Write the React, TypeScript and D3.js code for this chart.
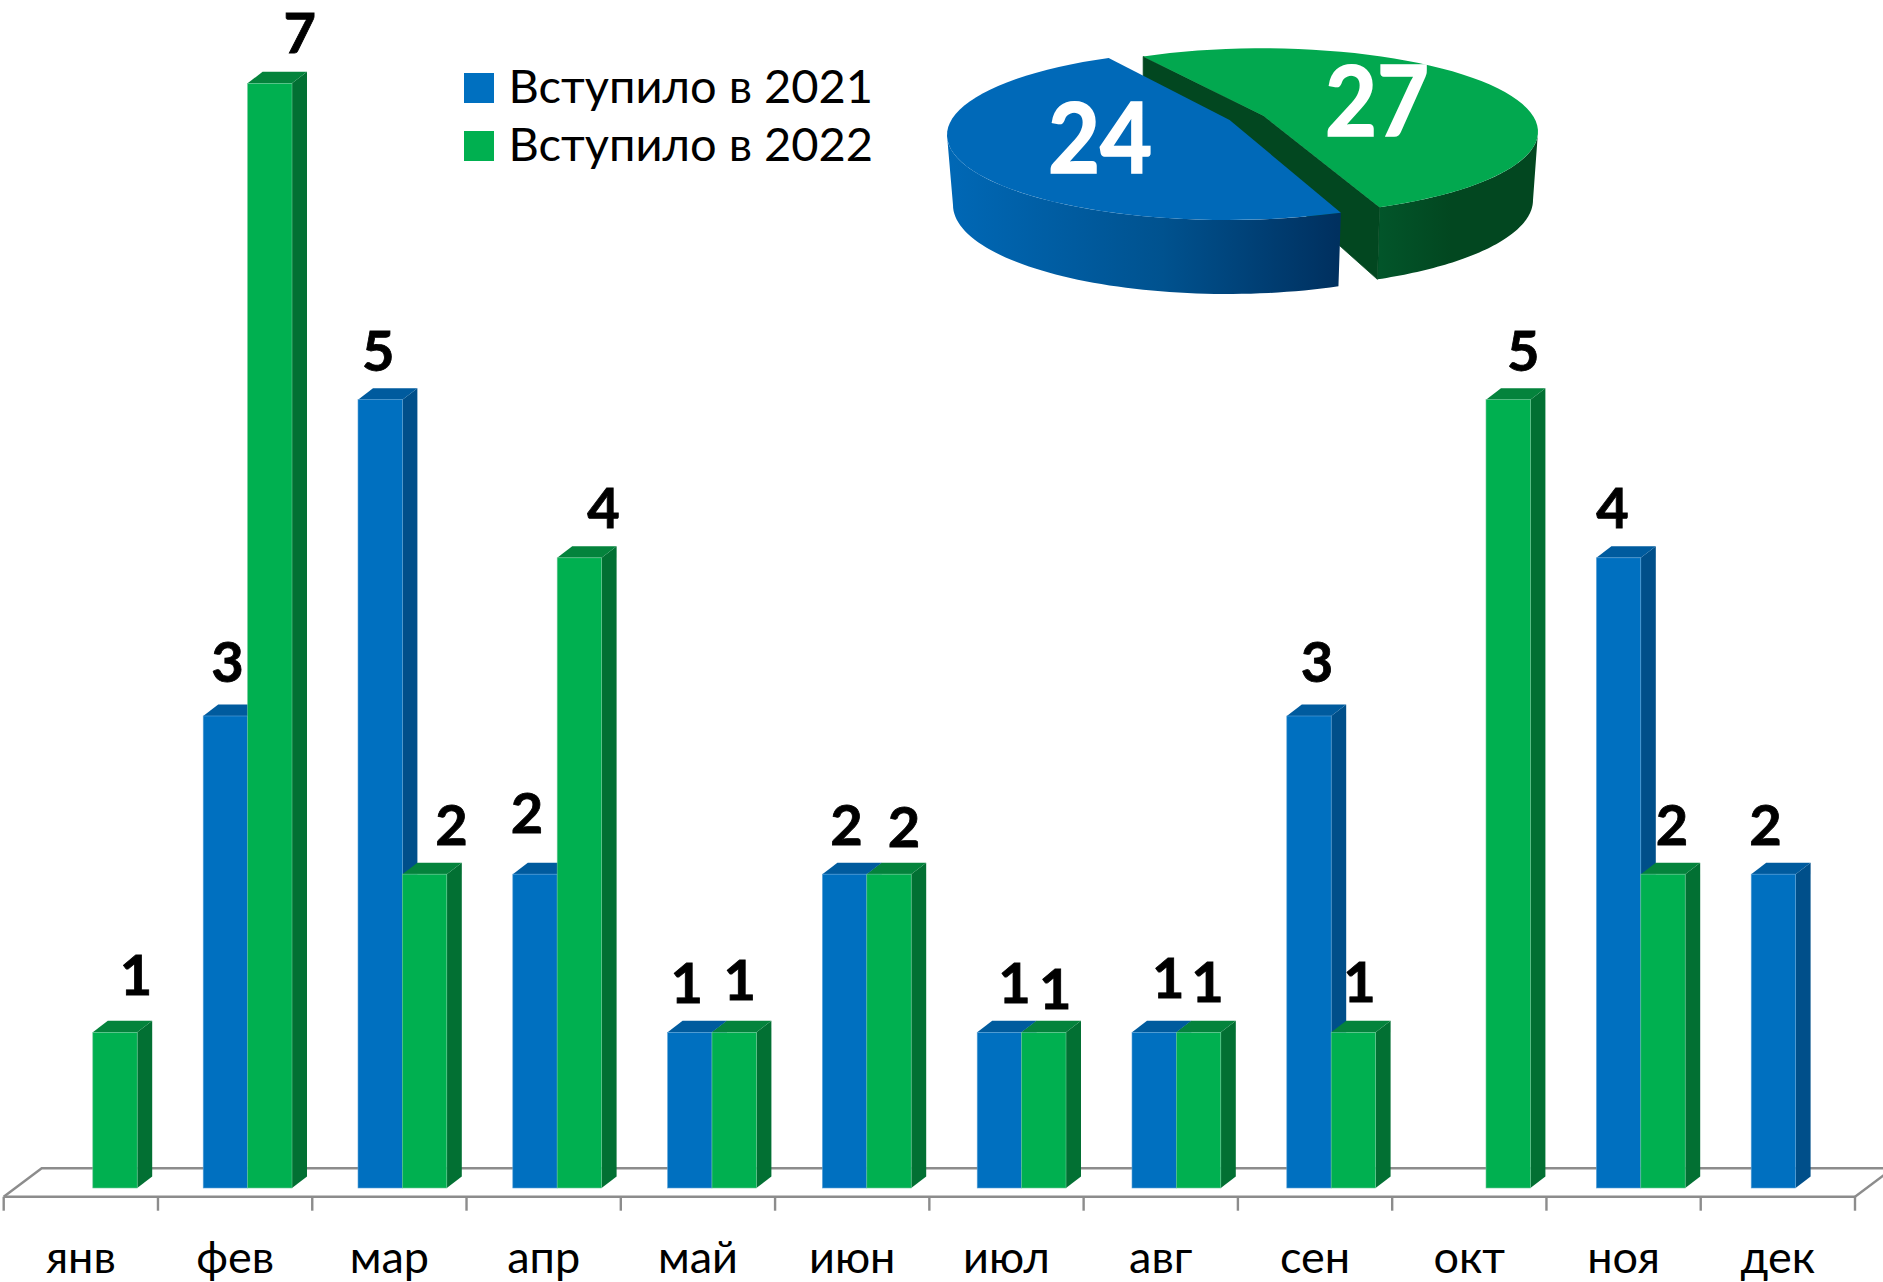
import React from "react";
import * as d3 from "d3";

const months = ["янв", "фев", "мар", "апр", "май", "июн", "июл", "авг", "сен", "окт", "ноя", "дек"];
const joined2021 = [0, 3, 5, 2, 1, 2, 1, 1, 3, 0, 4, 2];
const joined2022 = [1, 7, 2, 4, 1, 2, 1, 1, 1, 5, 2, 0];
const totals = [27, 24];
const legendLabels = ["Вступило в 2021", "Вступило в 2022"];

// label nudges (layout only), px from the bar's centre and top
const nudge2021 = [[0, 0], [2, -52.6], [-2, -48], [-8, -60], [-3, -48], [2, -48], [15, -48], [14, -53], [8, -53], [0, 0], [-6, -49], [-8, -48]];
const nudge2022 = [[21, -56], [30, -49], [27, -48], [24, -49], [5.5, -51], [15, -46], [11.5, -42], [9, -49], [6, -49], [15, -48], [9, -48], [0, 0]];

const FONT = "Lato, Carlito, 'Open Sans', sans-serif";
const W = 1883, H = 1282;
const BAR_W = 44.4, DX = 15, DY = 11.5, BASE = 1188;
const y = d3.scaleLinear().domain([0, 7]).range([1190.5, 83.3]);
const groupX = d3.scaleLinear().domain([0, 11]).range([48.4, 1751.2]);
const tickX = d3.scaleLinear().domain([0, 12]).range([3.7, 1855]);

const C = {
  blue: { front: "#0070c0", top: "#005b9e", side: "#004f8a", edge: "#5aa2d8" },
  green: { front: "#00b050", top: "#04833c", side: "#027033", edge: "#6cc896" },
};

function Bar({ x, v, c }: { x: number; v: number; c: typeof C.blue }) {
  if (!v) return null;
  const t = y(v);
  const poly = (p: number[][]) => p.map((q) => q.join(",")).join(" ");
  return (
    <g>
      <polygon points={poly([[x + BAR_W, t], [x + BAR_W + DX, t - DY], [x + BAR_W + DX, BASE - DY], [x + BAR_W, BASE]])} fill={c.side} />
      <polygon points={poly([[x, t], [x + DX, t - DY], [x + BAR_W + DX, t - DY], [x + BAR_W, t]])} fill={c.top} />
      <rect x={x} y={t} width={BAR_W} height={BASE - t} fill={c.front} stroke={c.edge} strokeWidth={0.6} />
    </g>
  );
}

// ---- pie: angles from d3.pie, drawn on a tilted ellipse per (exploded) slice
const pieArcs = d3.pie<number>().sort(null)(totals);
const deg = Math.PI / 180;
const views = [
  { range: [-25.5, 154.8], cx: 1262, top: [131.7, 276, 83.4], bot: [200, 271, 87.7], apex: 115.7, apexBot: 177.7, fill: "#02a84f" },
  { range: [-25, 156], cx: 1227, top: [135, 280, 85], bot: [205, 274, 89], apex: 120, apexBot: 190, fill: "#0069b8" },
];
const line = d3.line<[number, number]>();
const pt = (cx: number, e: number[], t: number): [number, number] => [cx + e[1] * Math.sin(t * deg), e[0] - e[2] * Math.cos(t * deg)];
const arcPts = (cx: number, e: number[], a: number, b: number): [number, number][] =>
  d3.range(0, 61).map((i) => pt(cx, e, a + ((b - a) * i) / 60));

function PieView() {
  const slices = pieArcs.map((arc, i) => {
    const v = views[i];
    const warp = d3.scaleLinear().domain([arc.startAngle, arc.endAngle]).range(v.range);
    return { v, a: warp(arc.startAngle), b: warp(arc.endAngle), value: arc.data };
  });
  const [g, b] = slices;
  const gWallInner: [number, number][] = [
    pt(g.v.cx, g.v.top, g.a), [g.v.cx + 1.4, g.v.apex], pt(g.v.cx, g.v.top, g.b),
    pt(g.v.cx, g.v.bot, g.b), [g.v.cx + 1.4, g.v.apexBot], pt(g.v.cx, [g.v.top[0] + 62, g.v.top[1], g.v.top[2]], g.a),
  ];
  const gOuter = [...arcPts(g.v.cx, g.v.top, 90, g.b), ...arcPts(g.v.cx, g.v.bot, g.b, 90)];
  const gTop = [[g.v.cx + 1.4, g.v.apex] as [number, number], ...arcPts(g.v.cx, g.v.top, g.a, g.b)];
  const bTop = [[b.v.cx + 2.6, b.v.apex] as [number, number], ...arcPts(b.v.cx, b.v.top, b.b, b.a + 360)];
  const bWall = [pt(b.v.cx, b.v.top, b.b), ...arcPts(b.v.cx, b.v.top, b.b, 270), ...arcPts(b.v.cx, b.v.bot, 270, b.b)];
  return (
    <g>
      <defs>
        <linearGradient id="blueWall" gradientUnits="userSpaceOnUse" x1={947} x2={1338} y1={0} y2={0}>
          <stop offset="0" stopColor="#0068b6" />
          <stop offset="0.55" stopColor="#00528f" />
          <stop offset="1" stopColor="#00305f" />
        </linearGradient>
        <linearGradient id="greenWall" gradientUnits="userSpaceOnUse" x1={1380} x2={1538} y1={0} y2={0}>
          <stop offset="0" stopColor="#02552a" />
          <stop offset="0.45" stopColor="#024720" />
          <stop offset="1" stopColor="#024720" />
        </linearGradient>
      </defs>
      <path d={line(gOuter) + "Z"} fill="url(#greenWall)" />
      <path d={line(gWallInner) + "Z"} fill="#024720" stroke="#024720" strokeWidth={0.8} />
      <path d={line(gTop) + "Z"} fill={g.v.fill} />
      <path d={line(bWall) + "Z"} fill="url(#blueWall)" />
      <path d={line(bTop) + "Z"} fill={b.v.fill} />
      <text transform="translate(1377,136) scale(1.02,1.1)" textAnchor="middle" fontFamily={FONT} fontWeight={700} fontSize={88} fill="#fff" stroke="#fff" strokeWidth={1.5}>{g.value}</text>
      <text transform="translate(1100,172.7) scale(1.02,1.1)" textAnchor="middle" fontFamily={FONT} fontWeight={700} fontSize={88} fill="#fff" stroke="#fff" strokeWidth={1.5}>{b.value}</text>
    </g>
  );
}

export default function App() {
  const axisColor = "#8c8c8c";
  const series = [
    { vals: joined2021, c: C.blue, off: 0, nudge: nudge2021 },
    { vals: joined2022, c: C.green, off: BAR_W, nudge: nudge2022 },
  ];
  return (
    <svg width={W} height={H} viewBox={`0 0 ${W} ${H}`} style={{ position: "absolute", left: 0, top: 0, background: "#fff" }}>
      {/* floor */}
      <g stroke={axisColor} strokeWidth={2.4} fill="none">
        <polyline points={`${tickX(0)},1196.7 41.7,1168.3 ${W},1168.3`} />
        <line x1={tickX(0)} x2={tickX(12)} y1={1196.7} y2={1196.7} />
        <line x1={tickX(12)} x2={tickX(12) + 38} y1={1196.7} y2={1168.3} />
        {d3.range(0, 13).map((i) => (
          <line key={i} x1={tickX(i)} x2={tickX(i)} y1={1196.7} y2={1210.7} />
        ))}
      </g>
      {/* bars */}
      {series.map((s, si) =>
        s.vals.map((v, i) => <Bar key={`${si}-${i}`} x={groupX(i) + s.off} v={v} c={s.c} />)
      )}
      {/* value labels */}
      {series.map((s, si) =>
        s.vals.map((v, i) =>
          v ? (
            <text key={`${si}-${i}`} x={groupX(i) + s.off + BAR_W / 2 + s.nudge[i][0]} y={y(v) + s.nudge[i][1] + 19}
              textAnchor="middle" fontFamily={FONT} fontWeight={700} fontSize={56} fill="#000" stroke="#000" strokeWidth={0.8}>{v}</text>
          ) : null
        )
      )}
      {/* month labels */}
      {months.map((m, i) => (
        <text key={m} x={(tickX(i) + tickX(i + 1)) / 2} y={1273} textAnchor="middle" fontFamily={FONT} fontSize={45} fill="#000">{m}</text>
      ))}
      {/* legend */}
      {legendLabels.map((l, i) => (
        <g key={l}>
          <rect x={464} y={73 + i * 58} width={30} height={30} fill={i ? C.green.front : C.blue.front} />
          <text x={508.5} y={103 + i * 58} fontFamily={FONT} fontSize={47} fill="#000">{l}</text>
        </g>
      ))}
      <PieView />
    </svg>
  );
}
